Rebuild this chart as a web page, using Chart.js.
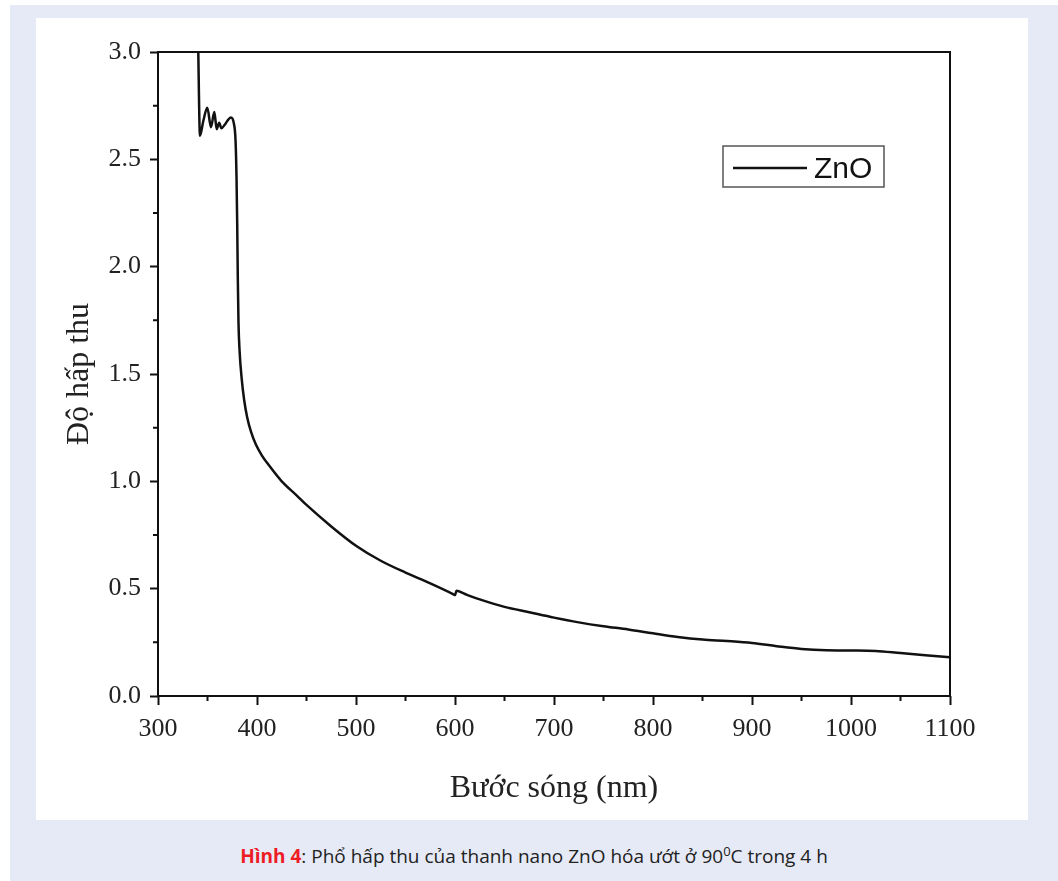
<!DOCTYPE html>
<html>
<head>
<meta charset="utf-8">
<script src="https://cdn.jsdelivr.net/npm/chart.js@4"></script>
<style>
  html, body { margin: 0; padding: 0; background: #fff; }
  body { width: 1058px; height: 881px; position: relative; overflow: hidden; }
  #outer { position: absolute; left: 10px; top: 5px; width: 1048px; height: 876px; background: #e6eaf6; }
  #panel { position: absolute; left: 36px; top: 18px; width: 992px; height: 802px; background: #fff; }
  #panel canvas { display: block; }
  #caption {
    position: absolute; left: 10px; top: 843px; width: 1048px; text-align: center;
    font-family: 'Open Sans', 'Noto Sans', sans-serif; font-size: 19px; color: #222;
  }
  #caption b { color: #ee1c25; }
  #caption sup { font-size: 13px; vertical-align: 7px; line-height: 0; }
</style>
</head>
<body>
<div id="outer"></div>
<div id="panel"><canvas id="chart" width="992" height="802"></canvas></div>
<div id="caption"><b>Hình 4</b>: Phổ hấp thu của thanh nano ZnO hóa ướt ở 90<sup>0</sup>C trong 4 h</div>
<script>
// wavelength (nm) and absorbance
const wavelength = [340.5, 342.4, 345.8, 349.8, 353.5, 356.9, 359.3, 361.8, 364, 368, 371, 373.7, 376.5,
  378.3, 379.3, 380, 380.6, 381.3, 382.5, 384.5, 387, 390, 394, 399, 405, 412, 425, 440, 450, 475,
  500, 525, 550, 575, 598, 600, 601.5, 610, 625, 650, 675, 700, 725, 750, 775, 800, 825, 850, 875,
  900, 925, 950, 975, 1000, 1025, 1050, 1075, 1100];
const absorbance = [3.05, 2.61, 2.68, 2.74, 2.65, 2.72, 2.64, 2.67, 2.645, 2.665, 2.685, 2.695, 2.67,
  2.59, 2.42, 2.2, 1.95, 1.74, 1.6, 1.48, 1.38, 1.3, 1.23, 1.17, 1.12, 1.075, 1.0, 0.935, 0.89, 0.79,
  0.70, 0.63, 0.575, 0.525, 0.475, 0.47, 0.49, 0.475, 0.45, 0.415, 0.39, 0.365, 0.343, 0.325, 0.31,
  0.292, 0.275, 0.263, 0.256, 0.247, 0.232, 0.219, 0.213, 0.212, 0.21, 0.2, 0.19, 0.18];
const seriesName = 'ZnO';
const xMin = 300, xMax = 1100, xStep = 100, xMinorStep = 50;
const yMin = 0, yMax = 3, yStep = 0.5, yMinorStep = 0.25;

const serif = "'Times New Roman', 'Liberation Serif', serif";

const frame = {
  id: 'frame',
  afterDraw(chart) {
    const { ctx, chartArea: a, scales: { x, y } } = chart;
    ctx.save();
    ctx.strokeStyle = '#111';
    ctx.lineWidth = 2;
    ctx.strokeRect(a.left, a.top, a.right - a.left, a.bottom - a.top);
    // minor ticks
    ctx.beginPath();
    for (let v = xMin + xMinorStep; v < xMax; v += xStep) {
      const px = x.getPixelForValue(v);
      ctx.moveTo(px, a.bottom); ctx.lineTo(px, a.bottom + 5);
    }
    for (let v = yMin + yMinorStep; v < yMax; v += yStep) {
      const py = y.getPixelForValue(v);
      ctx.moveTo(a.left, py); ctx.lineTo(a.left - 5, py);
    }
    ctx.stroke();

    // legend box
    const ds = chart.data.datasets[0];
    ctx.strokeStyle = '#555';
    ctx.lineWidth = 1.5;
    ctx.strokeRect(687, 128, 161, 41);
    ctx.strokeStyle = ds.borderColor;
    ctx.lineWidth = 2.5;
    ctx.beginPath();
    ctx.moveTo(697, 150); ctx.lineTo(771, 150);
    ctx.stroke();
    ctx.fillStyle = '#111';
    ctx.font = "30px 'Liberation Sans', Arial, sans-serif";
    ctx.textBaseline = 'alphabetic';
    ctx.fillText(ds.label, 778, 160);
    ctx.restore();
  }
};

new Chart(document.getElementById('chart'), {
  type: 'line',
  data: {
    datasets: [{
      label: seriesName,
      data: wavelength.map((w, i) => ({ x: w, y: absorbance[i] })),
      borderColor: '#111',
      borderWidth: 2.5,
      pointRadius: 0,
      cubicInterpolationMode: 'monotone',
      fill: false
    }]
  },
  options: {
    responsive: false,
    animation: false,
    layout: { padding: { left: 0, top: 34, right: 78, bottom: 0 } },
    plugins: { legend: { display: false }, tooltip: { enabled: false } },
    scales: {
      x: {
        type: 'linear', min: xMin, max: xMax,
        afterFit: s => { s.height = 124; },
        border: { display: false },
        grid: { drawOnChartArea: false, tickLength: 9, tickWidth: 2, tickColor: '#111' },
        ticks: { stepSize: xStep, color: '#222', padding: 9, font: { family: serif, size: 26 }, maxRotation: 0, callback: v => String(v) },
        title: { display: true, text: 'Bước sóng (nm)', color: '#222', font: { family: serif, size: 32 }, padding: { bottom: 12 } }
      },
      y: {
        min: yMin, max: yMax,
        afterFit: s => { s.width = 122; },
        border: { display: false },
        grid: { drawOnChartArea: false, tickLength: 8, tickWidth: 2, tickColor: '#111' },
        ticks: { stepSize: yStep, color: '#222', padding: 9, font: { family: serif, size: 26 }, callback: v => v.toFixed(1) },
        title: { display: true, text: 'Độ hấp thu', color: '#222', font: { family: serif, size: 32 }, padding: { top: 24 } }
      }
    }
  },
  plugins: [frame]
});
</script>
</body>
</html>
